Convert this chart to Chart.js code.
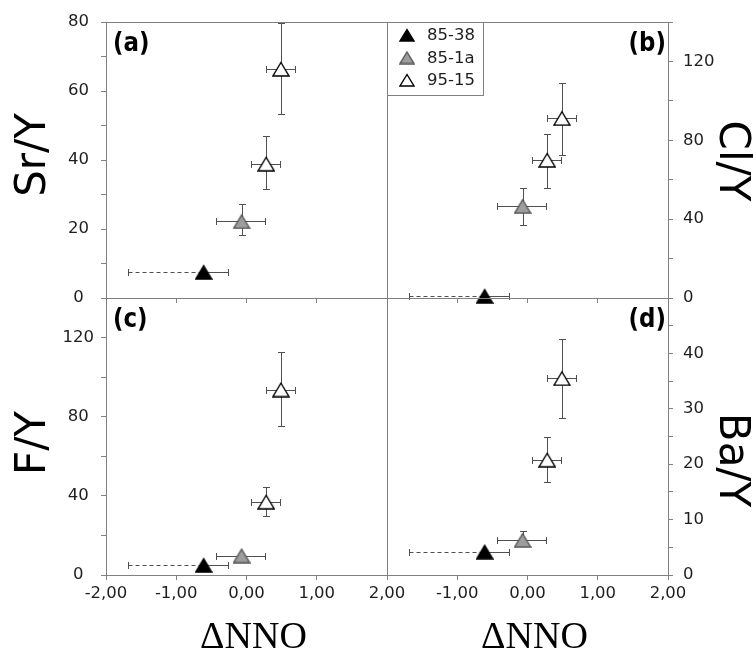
<!DOCTYPE html>
<html lang="en">
<head>
<meta charset="UTF-8">
<title>NNO ratios</title>
<style>
  body { margin: 0; background: #fff; }
  .wrap { position: relative; width: 755px; height: 653px; }
  .wrap canvas { position: absolute; left: 0; top: 0; }
</style>
</head>
<body>
<div class="wrap">
  <canvas id="pa" width="755" height="653"></canvas>
  <canvas id="pb" width="755" height="653"></canvas>
  <canvas id="pc" width="755" height="653"></canvas>
  <canvas id="pd" width="755" height="653"></canvas>
</div>

<script src="https://cdn.jsdelivr.net/npm/chart.js"></script>
<script>
// samples (one row per point)
const sampleNames = ['85-38', '85-1a', '95-15'];
const sampleOf = [0, 1, 2, 2];
const dNNO   = [-0.61, -0.07, 0.28, 0.49];
const dNNOLo = [-1.68, -0.44, 0.07, 0.28];
const dNNOHi = [-0.27, 0.27, 0.48, 0.69];
const dashedLo = [true, false, false, false];

const srY   = [7.5, 22.2, 38.9, 66.4];
const srYLo = [null, 18.3, 31.6, 53.3];
const srYHi = [null, 27.3, 47.0, 79.7];

const clY   = [1, 46.6, 70.0, 91.2];
const clYLo = [null, 37.1, 55.6, 72.7];
const clYHi = [null, 55.7, 83.4, 109];

const fY   = [5, 9.8, 37.0, 93.7];
const fYLo = [null, null, 29.9, 75.1];
const fYHi = [null, null, 44.7, 112.6];

const baY   = [4.2, 6.3, 20.8, 35.5];
const baYLo = [null, 5.2, 16.8, 28.4];
const baYHi = [null, 7.9, 25.0, 42.6];

// tick labels
const srTicks = [0, 20, 40, 60, 80];
const clTicks = [0, 40, 80, 120];
const fTicks  = [0, 40, 80, 120];
const baTicks = [0, 10, 20, 30, 40];
const xTicksC = [-2, -1, 0, 1, 2];
const xTicksD = [-1, 0, 1, 2];

const GRAY = '#808080';
const INK = '#1e1e1e';
const TICK_FONT = { family: 'DejaVu Sans', size: 16.5 };
const Y_W = 60, X_H = 30;

function fmtX(v) { return v.toFixed(2).replace('.', ','); }

function triangle(fill, edge, w, h) {
  const c = document.createElement('canvas');
  c.width = w; c.height = h;
  const g = c.getContext('2d');
  g.beginPath();
  g.moveTo(w / 2, 1.5);
  g.lineTo(w - 1, h - 1);
  g.lineTo(1, h - 1);
  g.closePath();
  g.fillStyle = fill;
  g.fill();
  g.lineWidth = 1.4;
  g.strokeStyle = edge;
  g.stroke();
  return c;
}
const sampleFill = ['#000', '#9d9d9d', '#fff'];
const sampleEdge = ['#000', '#555', '#000'];
const markers = sampleFill.map((f, s) => triangle(f, sampleEdge[s], 18, 16));
const legendMarkers = sampleFill.map((f, s) => triangle(f, sampleEdge[s], 16, 14));

function errorBars(yVals, yLo, yHi) {
  return {
    id: 'errorBars',
    beforeDatasetsDraw(chart) {
      const { ctx } = chart;
      const x = chart.scales.x, y = chart.scales.y;
      const cap = 3.5;
      ctx.save();
      ctx.strokeStyle = '#505050';
      ctx.lineWidth = 1;
      dNNO.forEach((v, i) => {
        const px = Math.round(x.getPixelForValue(v)) + 0.5;
        const py = Math.round(y.getPixelForValue(yVals[i])) + 0.5;
        const lo = Math.round(x.getPixelForValue(dNNOLo[i])) + 0.5;
        const hi = Math.round(x.getPixelForValue(dNNOHi[i])) + 0.5;
        ctx.beginPath();
        ctx.setLineDash(dashedLo[i] ? [4, 3] : []);
        ctx.moveTo(lo, py); ctx.lineTo(px, py);
        ctx.stroke();
        ctx.setLineDash([]);
        ctx.beginPath();
        ctx.moveTo(px, py); ctx.lineTo(hi, py);
        ctx.moveTo(lo, py - cap); ctx.lineTo(lo, py + cap);
        ctx.moveTo(hi, py - cap); ctx.lineTo(hi, py + cap);
        if (yLo[i] != null) {
          const t = Math.round(y.getPixelForValue(yHi[i])) + 0.5;
          const b = Math.round(y.getPixelForValue(yLo[i])) + 0.5;
          ctx.moveTo(px, t); ctx.lineTo(px, b);
          ctx.moveTo(px - cap, t); ctx.lineTo(px + cap, t);
          ctx.moveTo(px - cap, b); ctx.lineTo(px + cap, b);
        }
        ctx.stroke();
      });
      ctx.restore();
    }
  };
}

function decorations(opt) {
  return {
    id: 'decor',
    afterDraw(chart) {
      const { ctx, chartArea: a } = chart;
      ctx.save();
      ctx.strokeStyle = GRAY;
      ctx.lineWidth = 1;
      ctx.strokeRect(a.left + 0.5, a.top + 0.5, a.right - a.left, a.bottom - a.top);

      // panel tag
      ctx.fillStyle = '#000';
      ctx.font = 'bold 27px "DejaVu Sans"';
      ctx.textBaseline = 'alphabetic';
      ctx.save();
      if (opt.side === 'left') {
        ctx.translate(a.left + 7, a.top + 29);
        ctx.scale(0.85, 1);
        ctx.textAlign = 'left';
      } else {
        ctx.translate(a.right - 2, a.top + 29);
        ctx.scale(0.85, 1);
        ctx.textAlign = 'right';
      }
      ctx.fillText(opt.tag, 0, 0);
      ctx.restore();

      // y title
      ctx.font = '42px "DejaVu Sans"';
      ctx.textAlign = 'center';
      ctx.save();
      if (opt.side === 'left') {
        ctx.translate(45, opt.titleY);
        ctx.rotate(-Math.PI / 2);
      } else {
        ctx.translate(720, opt.titleY);
        ctx.rotate(Math.PI / 2);
      }
      ctx.fillText(opt.yTitle, 0, 0);
      ctx.restore();

      // x title
      if (opt.xTitle) {
        ctx.font = '38px "Liberation Serif"';
        ctx.fillText('\u0394NNO', (a.left + a.right) / 2 + 7, 648);
      }

      // legend
      if (opt.legend) {
        ctx.strokeRect(387.5, 22.5, 96, 73);
        ctx.font = '16.5px "DejaVu Sans"';
        ctx.textAlign = 'left';
        ctx.textBaseline = 'middle';
        ctx.fillStyle = INK;
        [35, 57.5, 80].forEach((yy, s) => {
          const m = legendMarkers[s];
          ctx.drawImage(m, 407 - m.width / 2, yy - m.height / 2);
          ctx.fillText(sampleNames[s], 427, yy + 1);
        });
      }
      ctx.restore();
    }
  };
}

function makePanel(id, opt) {
  const a = opt.area;
  const padding = {
    left: opt.side === 'left' ? a.left - Y_W : a.left,
    right: 755 - a.right - (opt.side === 'right' ? Y_W : 0),
    top: a.top,
    bottom: 653 - a.bottom - X_H
  };
  const datasets = sampleNames.map((name, s) => ({
    label: name,
    data: dNNO.map((x, i) => ({ x: x, y: opt.yVals[i], i: i }))
              .filter(p => sampleOf[p.i] === s),
    pointStyle: markers[s],
    pointRadius: 9,
    showLine: false,
    clip: false
  }));
  return new Chart(document.getElementById(id), {
    type: 'scatter',
    data: { datasets: datasets },
    options: {
      responsive: false,
      animation: false,
      events: [],
      layout: { padding: padding },
      plugins: { legend: { display: false }, tooltip: { enabled: false } },
      scales: {
        x: {
          type: 'linear', position: 'bottom', min: -2, max: 2,
          ticks: {
            stepSize: 1, autoSkip: false, maxRotation: 0, padding: 4,
            font: TICK_FONT, color: INK,
            callback: v => opt.xLabels.includes(v) ? fmtX(v) : ''
          },
          grid: { drawOnChartArea: false, tickLength: 5, color: GRAY },
          border: { color: GRAY },
          afterFit: s => { s.height = X_H; }
        },
        y: {
          type: 'linear', position: opt.side, min: 0, max: opt.yMax,
          ticks: {
            stepSize: opt.yStep, autoSkip: false, padding: opt.tickPad,
            crossAlign: opt.side === 'left' ? 'center' : 'near',
            font: TICK_FONT, color: INK,
            callback: v => opt.yLabels.includes(v) ? String(v) : ''
          },
          grid: { drawOnChartArea: false, tickLength: 5, color: GRAY },
          border: { color: GRAY },
          afterFit: s => { s.width = Y_W; }
        }
      }
    },
    plugins: [errorBars(opt.yVals, opt.yLo, opt.yHi), decorations(opt)]
  });
}

makePanel('pa', {
  area: { left: 106, top: 22, right: 387, bottom: 298 }, side: 'left',
  yMax: 80, yStep: 10, yLabels: srTicks, tickPad: 12,
  yVals: srY, yLo: srYLo, yHi: srYHi, xLabels: [],
  tag: '(a)', yTitle: 'Sr/Y', titleY: 155
});
makePanel('pb', {
  area: { left: 387, top: 22, right: 668, bottom: 298 }, side: 'right',
  yMax: 140, yStep: 20, yLabels: clTicks, tickPad: 10,
  yVals: clY, yLo: clYLo, yHi: clYHi, xLabels: [],
  tag: '(b)', yTitle: 'Cl/Y', titleY: 161, legend: true
});
makePanel('pc', {
  area: { left: 106, top: 298, right: 387, bottom: 575 }, side: 'left',
  yMax: 140, yStep: 20, yLabels: fTicks, tickPad: 7,
  yVals: fY, yLo: fYLo, yHi: fYHi, xLabels: xTicksC,
  tag: '(c)', yTitle: 'F/Y', titleY: 443, xTitle: true
});
makePanel('pd', {
  area: { left: 387, top: 298, right: 668, bottom: 575 }, side: 'right',
  yMax: 50, yStep: 5, yLabels: baTicks, tickPad: 10,
  yVals: baY, yLo: baYLo, yHi: baYHi, xLabels: xTicksD,
  tag: '(d)', yTitle: 'Ba/Y', titleY: 460, xTitle: true
});
</script>
</body>
</html>
